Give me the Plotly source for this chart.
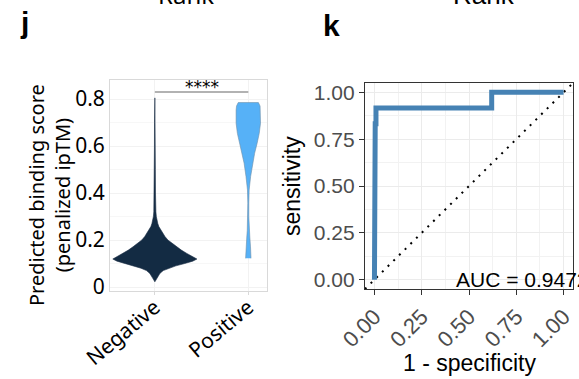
import plotly.graph_objects as go

W, H = 579, 379

# ---------------- data ----------------
categories = ["Negative", "Positive"]

# violin outlines: score and relative density (half-width)
neg_score = [0.022, 0.03, 0.04, 0.058, 0.07, 0.08, 0.09, 0.10, 0.11, 0.119, 0.13, 0.143, 0.157,
             0.171, 0.185, 0.20, 0.215, 0.228, 0.243, 0.257, 0.27, 0.285, 0.30, 0.32, 0.36,
             0.40, 0.50, 0.60, 0.70, 0.80, 0.805]
neg_density = [0.0, 0.03, 0.06, 0.12, 0.20, 0.33, 0.50, 0.71, 0.90, 1.0, 0.88, 0.76, 0.63,
               0.52, 0.41, 0.31, 0.24, 0.19, 0.14, 0.095, 0.07, 0.048, 0.035, 0.025, 0.018,
               0.015, 0.012, 0.010, 0.008, 0.006, 0.0]

pos_score = [0.122, 0.14, 0.171, 0.213, 0.24, 0.27, 0.30, 0.357, 0.413, 0.47, 0.527, 0.569,
             0.612, 0.654, 0.697, 0.72, 0.753, 0.77, 0.785]
pos_density = [0.064, 0.062, 0.052, 0.036, 0.025, 0.013, 0.012, 0.012, 0.02, 0.055, 0.10, 0.15,
               0.21, 0.26, 0.29, 0.29, 0.29, 0.28, 0.24]

signif_label = "****"
signif_y = 0.83

# ROC curve
roc_fpr = [0.0, 0.0, 0.004, 0.004, 0.008, 0.008, 0.62, 0.62, 1.0]
roc_tpr = [0.0, 0.583, 0.583, 0.833, 0.833, 0.917, 0.917, 1.0, 1.0]
auc_label = "AUC = 0.9472"

left_yticks = [0, 0.2, 0.4, 0.6, 0.8]
left_yticktext = ["0", "0.2", "0.4", "0.6", "0.8"]
roc_ticks = [0, 0.25, 0.5, 0.75, 1.0]
roc_ticktext = ["0.00", "0.25", "0.50", "0.75", "1.00"]
roc_minor = [0.125, 0.375, 0.625, 0.875]

# ---------------- helpers ----------------
def px(x):
    return x / W

def py(y):
    return 1 - y / H

HALF = 0.45

def violin_xy(center, scores, dens):
    xs = [center + HALF * d for d in dens] + [center - HALF * d for d in reversed(dens)]
    ys = list(scores) + list(reversed(scores))
    return xs, ys

fig = go.Figure()

nx, ny = violin_xy(1, neg_score, neg_density)
fig.add_trace(go.Scatter(x=nx, y=ny, fill="toself", fillcolor="#132B43", mode="lines",
                         line=dict(color="#1d2f47", width=0.6), xaxis="x", yaxis="y",
                         hoverinfo="skip", showlegend=False))
pxs, pys = violin_xy(2, pos_score, pos_density)
fig.add_trace(go.Scatter(x=pxs, y=pys, fill="toself", fillcolor="#56B1F7", mode="lines",
                         line=dict(color="#6f8ea8", width=0.6), xaxis="x", yaxis="y",
                         hoverinfo="skip", showlegend=False))
# significance bar
fig.add_trace(go.Scatter(x=[1, 2], y=[signif_y, signif_y], mode="lines",
                         line=dict(color="#666666", width=1.2), xaxis="x", yaxis="y",
                         hoverinfo="skip", showlegend=False))

# ROC
fig.add_trace(go.Scatter(x=[-0.05, 1.05], y=[-0.05, 1.05], mode="lines",
                         line=dict(color="black", width=2, dash="2px,6px"),
                         xaxis="x2", yaxis="y2", hoverinfo="skip", showlegend=False))
fig.add_trace(go.Scatter(x=roc_fpr, y=roc_tpr, mode="lines",
                         line=dict(color="#4682B4", width=5),
                         xaxis="x2", yaxis="y2", showlegend=False))

left_font = "Noto Sans"
roc_font = "Liberation Sans"

fig.update_layout(
    template="none",
    width=W, height=H, margin=dict(l=0, r=0, t=0, b=0, pad=0, autoexpand=False),
    paper_bgcolor="white", plot_bgcolor="white", showlegend=False,
    xaxis=dict(domain=[px(110), px(267)], range=[0.52, 2.2], tickvals=[1, 2], ticktext=categories,
               tickangle=-40, tickfont=dict(family=left_font, size=21, color="black"),
               ticklabelstandoff=-8,
               showgrid=True, gridcolor="#F2F2F2", gridwidth=1, zeroline=False, automargin=False,
               showline=True, mirror=True, linecolor="#D9D9D9", linewidth=1,
               ticks="outside", ticklen=3, tickcolor="#D9D9D9", anchor="y"),
    yaxis=dict(domain=[py(291), py(80)], range=[-0.017, 0.881], tickvals=left_yticks,
               ticktext=left_yticktext, tickfont=dict(family=left_font, size=21, color="black"),
               showgrid=True, gridcolor="#F2F2F2", gridwidth=1, zeroline=False, automargin=False,
               minor=dict(tickvals=[0.1, 0.3, 0.5, 0.7], showgrid=True, gridcolor="#F7F7F7", gridwidth=1),
               showline=True, mirror=True, linecolor="#D9D9D9", linewidth=1,
               ticks="", anchor="x"),
    xaxis2=dict(domain=[px(365), px(573)], range=[-0.05, 1.05], tickvals=roc_ticks, ticktext=roc_ticktext,
                tickangle=-45, tickfont=dict(family=roc_font, size=22, color="#4D4D4D"),
                showgrid=True, gridcolor="#EBEBEB", gridwidth=1.3, zeroline=False, automargin=False,
                minor=dict(tickvals=roc_minor, showgrid=True, gridcolor="#F2F2F2", gridwidth=0.8),
                showline=True, mirror=True, linecolor="#333333", linewidth=1.2,
                ticks="outside", ticklen=5, tickcolor="#333333", tickwidth=1.2, anchor="y2"),
    yaxis2=dict(domain=[py(289), py(83)], range=[-0.05, 1.05], tickvals=roc_ticks, ticktext=roc_ticktext,
                tickfont=dict(family=roc_font, size=21, color="#4D4D4D"),
                showgrid=True, gridcolor="#EBEBEB", gridwidth=1.3, zeroline=False, automargin=False,
                minor=dict(tickvals=roc_minor, showgrid=True, gridcolor="#F2F2F2", gridwidth=0.8),
                showline=True, mirror=True, linecolor="#333333", linewidth=1.2,
                ticks="outside", ticklen=5, tickcolor="#333333", tickwidth=1.2, anchor="x2"),
)

ann = []
# significance stars
ann.append(dict(x=1.5, y=signif_y, xref="x", yref="y", text=signif_label, showarrow=False,
                yanchor="bottom", yshift=-7, font=dict(family="DejaVu Sans", size=17, color="black")))
# AUC
ann.append(dict(x=0.75, y=0, xref="x2", yref="y2", text=auc_label, showarrow=False, xshift=6,
                xanchor="center", yanchor="middle", font=dict(family=roc_font, size=21, color="black")))
# axis titles
ann.append(dict(x=px(49), y=py(195), xref="paper", yref="paper",
                text="Predicted binding score<br>(penalized ipTM)", showarrow=False, textangle=-90,
                xanchor="center", yanchor="middle", font=dict(family=left_font, size=20, color="black")))
ann.append(dict(x=px(292), y=py(186), xref="paper", yref="paper", text="sensitivity",
                showarrow=False, textangle=-90, xanchor="center", yanchor="middle",
                font=dict(family=roc_font, size=23, color="black")))
ann.append(dict(x=px(469), y=py(363), xref="paper", yref="paper", text="1 - specificity",
                showarrow=False, xanchor="center", yanchor="middle",
                font=dict(family=roc_font, size=23, color="black")))
# panel letters
ann.append(dict(x=px(24), y=py(22), xref="paper", yref="paper", text="<b>j</b>", showarrow=False,
                xanchor="center", yanchor="middle", font=dict(family=roc_font, size=30, color="black")))
ann.append(dict(x=px(331), y=py(25), xref="paper", yref="paper", text="<b>k</b>", showarrow=False,
                xanchor="center", yanchor="middle", font=dict(family=roc_font, size=30, color="black")))
# clipped titles of the panels above
ann.append(dict(x=px(186), y=py(-5), xref="paper", yref="paper", text="Rank", showarrow=False,
                xanchor="center", yanchor="middle", font=dict(family=left_font, size=24, color="black")))
ann.append(dict(x=px(484), y=py(-5), xref="paper", yref="paper", text="Rank", showarrow=False,
                xanchor="center", yanchor="middle", font=dict(family=roc_font, size=26, color="black")))
fig.update_layout(annotations=ann)

fig.write_html("out.html", config={"displayModeBar": False},
               post_script="document.body.style.margin='0';document.body.style.overflow='hidden';")
